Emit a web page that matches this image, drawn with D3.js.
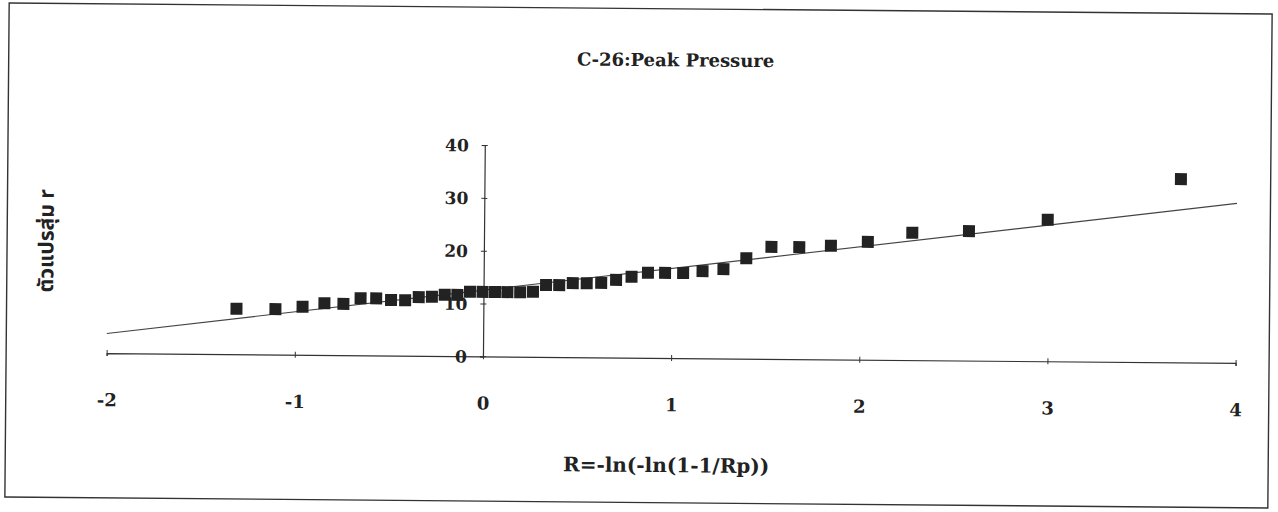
<!DOCTYPE html>
<html>
<head>
<meta charset="utf-8">
<script src="https://cdn.jsdelivr.net/npm/d3@7"></script>
<style>
  html, body { margin: 0; padding: 0; background: #fff; }
  svg { display: block; }
</style>
</head>
<body>
<svg id="chart" width="1278" height="512"></svg>
<script>
// Gumbel reduced variate R = -ln(-ln(1-1/Rp)) for each ranked observation
const reducedVariate = [
  -1.312, -1.105, -0.961, -0.845, -0.744, -0.653, -0.570, -0.491, -0.416, -0.344,
  -0.274, -0.206, -0.139, -0.072, -0.005, 0.061, 0.127, 0.195, 0.263, 0.332,
  0.402, 0.474, 0.548, 0.625, 0.704, 0.786, 0.873, 0.964, 1.060, 1.163,
  1.274, 1.395, 1.528, 1.676, 1.844, 2.040, 2.276, 2.577, 2.995, 3.701
];
// Ranked peak pressure values (random variable r)
const peakPressure = [
  8.6, 8.6, 9.1, 9.8, 9.7, 10.8, 10.8, 10.5, 10.5, 11.1,
  11.2, 11.6, 11.6, 12.2, 12.2, 12.2, 12.2, 12.2, 12.3, 13.6,
  13.6, 14.0, 14.0, 14.1, 14.7, 15.3, 16.1, 16.1, 16.1, 16.5,
  16.9, 19.0, 21.2, 21.2, 21.5, 22.3, 24.1, 24.5, 26.8, 34.7
];
// Fitted straight line, end points
const fitX = [-2, 4];
const fitY = [3.7, 30.2];

const xTicks = [-2, -1, 0, 1, 2, 3, 4];
const yTicks = [0, 10, 20, 30, 40];

const titleText = "C-26:Peak Pressure";
const xLabel = "R=-ln(-ln(1-1/Rp))";
const yLabel = "ตัวแปรสุ่ม r";

const svg = d3.select("#chart");
svg.append("rect").attr("width", 1278).attr("height", 512).attr("fill", "#fff");

// the whole sheet sits slightly tilted
const g = svg.append("g").attr("transform", "rotate(0.5 639 256)");

g.append("rect")
  .attr("x", 7).attr("y", 8.5).attr("width", 1263).attr("height", 494)
  .attr("fill", "none").attr("stroke", "#333").attr("stroke-width", 1.4);

const x = d3.scaleLinear().domain([-2, 4]).range([107.5, 1236.5]);
const y = d3.scaleLinear().domain([0, 40]).range([357.7, 146.4]);

const serif = "'DejaVu Serif', 'Liberation Serif', serif";

// title
g.append("text")
  .attr("x", 674).attr("y", 66)
  .attr("text-anchor", "middle")
  .attr("font-family", serif).attr("font-weight", "bold").attr("font-size", 18)
  .attr("fill", "#222")
  .text(titleText);

// x axis along r = 0
const xAxis = g.append("g")
  .attr("transform", `translate(0,${y(0)})`)
  .call(d3.axisBottom(x).tickValues(xTicks).tickSize(3).tickFormat(d3.format("d")));
xAxis.select(".domain").attr("stroke", "#333").attr("stroke-width", 1.2);
xAxis.selectAll(".tick line").attr("y1", -3).attr("y2", 3).attr("stroke", "#333");
xAxis.selectAll(".tick text")
  .attr("y", 47).attr("dy", "0.35em")
  .attr("font-family", serif).attr("font-weight", "bold")
  .attr("font-size", 18).attr("fill", "#222")
  .text(d => d < 0 ? "-" + Math.abs(d) : d);

// y axis along R = 0
const yAxis = g.append("g")
  .attr("transform", `translate(${x(0)},0)`)
  .call(d3.axisLeft(y).tickValues(yTicks).tickSize(3));
yAxis.select(".domain").attr("stroke", "#333").attr("stroke-width", 1.2);
yAxis.selectAll(".tick line").attr("x1", -3).attr("x2", 3).attr("stroke", "#333");
yAxis.selectAll(".tick text")
  .attr("x", -16).attr("dy", "0.35em")
  .attr("font-family", serif).attr("font-weight", "bold")
  .attr("font-size", 17).attr("fill", "#222");

// fitted line
g.append("line")
  .attr("x1", x(fitX[0])).attr("y1", y(fitY[0]))
  .attr("x2", x(fitX[1])).attr("y2", y(fitY[1]))
  .attr("stroke", "#444").attr("stroke-width", 1.1);

// observations
const pts = reducedVariate.map((v, i) => ({ r: v, p: peakPressure[i] }));
const s = 12;
g.append("g").selectAll("rect")
  .data(pts)
  .join("rect")
  .attr("x", d => x(d.r) - s / 2)
  .attr("y", d => y(d.p) - s / 2)
  .attr("width", s).attr("height", s)
  .attr("fill", "#222");

// axis titles
g.append("text")
  .attr("x", 668).attr("y", 465).attr("dy", "0.35em")
  .attr("text-anchor", "middle")
  .attr("font-family", serif).attr("font-weight", "bold").attr("font-size", 20)
  .attr("fill", "#222")
  .text(xLabel);

g.append("text")
  .attr("transform", "translate(46,246) rotate(-90)")
  .attr("dy", "0.35em")
  .attr("text-anchor", "middle")
  .attr("font-family", "'Noto Sans Thai', 'Loma', 'Garuda', 'Norasi', 'Tlwg Typo', sans-serif")
  .attr("font-weight", "bold").attr("font-size", 21)
  .attr("fill", "#222")
  .text(yLabel);
</script>
</body>
</html>
